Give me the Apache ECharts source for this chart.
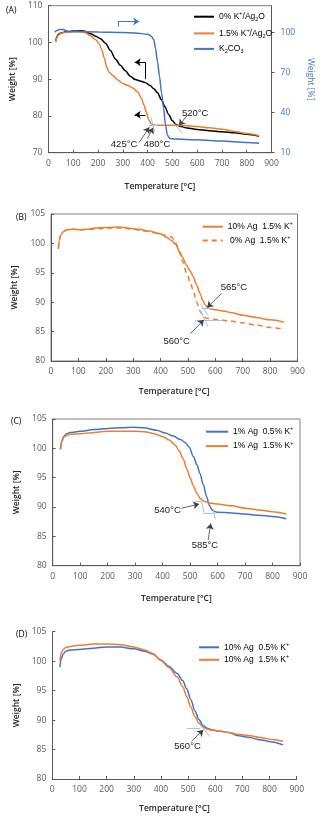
<!DOCTYPE html>
<html><head><meta charset="utf-8">
<script src="https://cdn.jsdelivr.net/npm/echarts@6/dist/echarts.min.js"></script>
<style>html,body{margin:0;padding:0;background:#fff}#c{width:323px;height:816px}</style>
</head><body><div id="c"></div>
<script>
// ---------- data ----------
const tempTicks = [0,100,200,300,400,500,600,700,800,900];

// Panel A  (weight %, left axis; K2CO3 on right axis)
const aBlack = [[30,100.4],[33,101.4],[40,102.2],[50,102.6],[70,102.9],[100,103.1],[130,103.2],[150,103.0],[170,102.4],[190,101.7],[210,101.0],[230,99.8],[250,97.8],[270,95.5],[290,93.8],[310,92.3],[330,90.8],[350,89.9],[370,89.5],[390,89.1],[410,88.3],[425,87.4],[440,86.3],[455,84.5],[470,82.5],[485,80.4],[500,78.7],[515,77.7],[530,77.2],[560,76.7],[600,76.3],[650,76.0],[700,75.7],[750,75.4],[800,75.0],[850,74.5]];
const aOrange = [[30,100.0],[33,101.2],[40,102.0],[50,102.5],[70,102.8],[100,103.0],[130,103.0],[150,102.6],[170,101.8],[190,100.8],[205,99.6],[215,98.0],[225,95.8],[235,93.3],[245,91.8],[260,91.0],[280,89.8],[300,88.8],[320,88.3],[340,87.6],[360,86.5],[375,84.8],[385,83.0],[395,81.0],[405,78.9],[415,77.8],[430,77.5],[460,77.5],[500,77.5],[550,77.4],[600,77.1],[650,76.8],[700,76.4],[750,75.8],[800,75.2],[850,74.6]];
const aK2CO3 = [[25,100.0],[32,101.3],[45,102.1],[60,102.2],[72,101.2],[85,100.6],[100,100.5],[200,100.4],[300,100.0],[350,99.6],[400,98.6],[415,97.2],[425,94.5],[432,88],[440,78],[448,67],[456,55],[464,44],[472,31],[480,23],[490,20.6],[510,20.2],[600,19.6],[700,18.7],[800,17.6],[850,17.0]];

// Panel B
const b10Ag = [[27,99.1],[30,100.5],[35,101.4],[45,102.0],[57,102.3],[80,102.4],[110,102.3],[130,102.4],[160,102.6],[200,102.7],[250,102.8],[280,102.6],[320,102.4],[360,102.1],[400,101.6],[420,101.1],[440,100.5],[455,99.8],[470,98.6],[480,97.6],[495,96.3],[508,95.3],[520,94.3],[532,92.9],[544,91.5],[555,90.2],[566,89.35],[580,88.9],[600,88.7],[630,88.5],[660,88.2],[700,87.8],[750,87.4],[800,87.0],[850,86.6]];
const b0Ag = [[27,99.1],[30,100.5],[35,101.4],[45,102.0],[57,102.3],[80,102.4],[110,102.3],[140,102.4],[180,102.5],[220,102.6],[260,102.6],[300,102.4],[340,102.1],[380,101.8],[420,101.4],[440,101.1],[450,100.6],[460,99.7],[470,98.3],[480,97.0],[495,95.0],[508,93.5],[520,91.8],[532,90.0],[544,88.5],[555,87.7],[566,87.3],[590,87.1],[620,87.0],[650,86.8],[700,86.5],[750,86.1],[800,85.7],[850,85.4]];

// Panel C
const c05K = [[28,99.8],[32,101.0],[40,102.0],[50,102.5],[63,102.7],[100,102.9],[150,103.2],[200,103.4],[250,103.5],[293,103.6],[330,103.5],[378,103.1],[410,102.6],[439,102.1],[465,101.5],[482,101.0],[497,100.2],[512,98.6],[525,97.2],[536,95.7],[548,93.8],[560,91.8],[570,90.3],[580,89.5],[592,89.2],[600,89.1],[650,89.0],[700,88.8],[750,88.6],[800,88.4],[850,88.0]];
const c15K = [[28,99.9],[32,101.0],[40,101.9],[50,102.2],[65,102.4],[100,102.5],[130,102.6],[170,102.8],[200,102.9],[250,102.9],[300,102.9],[340,102.8],[370,102.5],[400,102.0],[425,101.4],[445,100.6],[460,99.6],[475,98.2],[488,96.5],[500,95.0],[512,93.6],[525,92.3],[538,91.4],[550,91.0],[570,90.7],[600,90.5],[650,90.2],[700,89.8],[750,89.5],[800,89.2],[850,88.8]];

// Panel D
const d05K = [[28,99.0],[32,100.3],[40,101.2],[50,101.7],[65,101.9],[100,102.0],[150,102.2],[200,102.4],[250,102.4],[300,102.1],[340,101.7],[370,101.2],[400,100.2],[430,99.1],[460,97.9],[480,96.7],[495,95.3],[510,93.5],[525,91.6],[540,90.1],[555,89.1],[570,88.6],[590,88.3],[620,88.1],[650,87.9],[680,87.4],[720,87.1],[770,86.6],[810,86.3],[850,85.8]];
const d15K = [[28,100.0],[32,101.3],[40,102.0],[50,102.3],[65,102.5],[100,102.7],[150,102.9],[200,102.9],[250,102.8],[300,102.4],[340,101.9],[370,101.3],[400,100.1],[430,98.9],[460,97.3],[480,95.7],[495,94.0],[510,92.2],[525,90.6],[540,89.5],[555,88.8],[570,88.5],[590,88.3],[620,88.1],[650,87.9],[680,87.6],[720,87.4],[770,87.0],[810,86.7],[850,86.4]];

// annotation callouts (data space): [label, labelCoord, arrowFrom, arrowTo]
const aCallouts = [['425°C',[305,72.2],[366,72.8],[407,76.9]],['480°C',[438,72.2],[400,73.9],[422,76.8]],['520°C',[592,80.6],[561,80.3],[527,77.4]]];
const aTangents = [[[405,77.6],[440,77.6]],[[414,79.6],[428,75.6]],[[505,78.0],[540,75.3]]];
const aAxisArrows = [[[391,90],[391,94.6]],[[391,94.6],[348,94.6],1],[[391,80.3],[348,80.3],1]];
const aBlueArrow = [[[280,104.3],[280,105.7]],[[280,105.7],[366,105.7],1]];
const bCallouts = [['565°C',[668,92.6],[623,91.5],[570,89.1]],['560°C',[459,83.3],[510,84.7],[558,87.0]]];
const bTangents = [[[550,89.0],[590,89.0]],[[544,89.8],[574,87.8]],[[526,87.0],[623,87.0]],[[544,88.7],[574,85.8]]];
const cCallouts = [['540°C',[418,89.5],[469,89.8],[533,90.5]],['585°C',[554,83.5],[566,84.4],[575,87.2]]];
const cTangents = [[[518,90.9],[542,90.9]],[[542,90.9],[551,89.0]],[[551,89.0],[591,89.0]],[[585,89.6],[591,87.9]]];
const dCallouts = [['560°C',[498,85.6],[513,86.4],[556,88.3]]];
const dTangents = [[[495,88.6],[544,88.6]],[[544,89.2],[581,87.2]]];

// ---------- style ----------
const FONT = 'Open Sans';
const NFONT = 'Liberation Sans';
const GRAY = '#595959';
const ORANGE = '#ED7D31', BLUE = '#4472C4', BLACK = '#000000', TAN = '#9DC3E6';

const grids = [
  {left:42.7, top:5.7, width:243.3, height:147, show:true, borderColor:'#808080', borderWidth:1},
  {left:51, top:214, width:246.5, height:147, show:true, borderColor:'#808080', borderWidth:1},
  {left:52.7, top:419, width:247.3, height:146.7, show:true, borderColor:'#808080', borderWidth:1},
  {left:52.3, top:631.7, width:244.4, height:147.3, show:false}
];
const xGaps = [29, 26, 28, 25];
const yGaps = [23, 27.5, 28, 27.5];

function xAx(i){
  return {type:'value', gridIndex:i, min:tempTicks[0], max:tempTicks[tempTicks.length-1], interval:100,
    name:'Temperature [°C]', nameLocation:'middle', nameGap:xGaps[i],
    nameTextStyle:{fontFamily:FONT, fontSize:8.5, fontWeight:600, color:'#262626'},
    axisLine:{show:true, onZero:false, lineStyle:{color:GRAY, width:1}},
    axisTick:{show:true, inside:true, length:3, lineStyle:{color:GRAY}},
    axisLabel:{fontFamily:FONT, fontSize:8.5, color:GRAY, margin:6},
    splitLine:{show:false}};
}
function yAx(i, min, max, interval){
  return {type:'value', gridIndex:i, min:min, max:max, interval:interval,
    name:'Weight [%]', nameLocation:'middle', nameGap:yGaps[i],
    nameTextStyle:{fontFamily:FONT, fontSize:8.5, fontWeight:600, color:'#262626'},
    axisLine:{show:true, onZero:false, lineStyle:{color:GRAY, width:1}},
    axisTick:{show:true, inside:true, length:3, lineStyle:{color:GRAY}},
    axisLabel:{fontFamily:FONT, fontSize:8.5, color:GRAY, margin:6},
    splitLine:{show:false}};
}
const rightAxis = {type:'value', gridIndex:0, position:'right', min:10, max:120, interval:30,
  name:'Weight [%]', nameLocation:'middle', nameGap:24, nameRotate:-90,
  nameTextStyle:{fontFamily:FONT, fontSize:8.5, color:BLUE},
  axisLine:{show:true, onZero:false, lineStyle:{color:GRAY, width:1}},
  axisTick:{show:true, inside:false, length:3, lineStyle:{color:GRAY}},
  axisLabel:{fontFamily:FONT, fontSize:8.5, color:BLUE, margin:9, showMaxLabel:false},
  splitLine:{show:false}};

function seg(p, q, color, width, arrow){
  return [{coord:p, symbol:'none', lineStyle:{color:color, width:width, type:'solid'}},
          {coord:q, symbol: arrow ? 'arrow' : 'none', symbolSize:6, lineStyle:{color:color, width:width, type:'solid'}}];
}
function annotations(callouts, tangents, extra){
  const lines = [];
  tangents.forEach(t => lines.push(seg(t[0], t[1], TAN, 1, false)));
  callouts.forEach(c => lines.push(seg(c[2], c[3], '#404040', 0.8, true)));
  (extra || []).forEach(e => e.list.forEach(s => lines.push(seg(s[0], s[1], e.color, 1, !!s[2]))));
  return {
    markLine:{silent:true, animation:false, label:{show:false}, symbol:['none','none'], data:lines},
    markPoint:{silent:true, animation:false, symbol:'rect', symbolSize:1, itemStyle:{color:'rgba(0,0,0,0)'},
      label:{show:true, formatter:'{b}', position:'inside', fontFamily:NFONT, fontSize:9.5, color:'#1a1a1a'},
      data:callouts.map(c => ({name:c[0], coord:c[1]}))}
  };
}
function line(name, data, xi, yi, color, extra){
  const s = {name:name, type:'line', xAxisIndex:xi, yAxisIndex:yi, data:data, showSymbol:false, symbol:'none',
    smooth:0.3, smoothMonotone:'x', lineStyle:{color:color, width:1.5}, itemStyle:{color:color}, z:3};
  return Object.assign(s, extra || {});
}

const labels = {
  A1:'{n|0% K}{sup|+}{n|/Ag}{sub|2}{n|O}',
  A2:'{n|1.5% K}{sup|+}{n|/Ag}{sub|2}{n|O}',
  A3:'{n|K}{sub|2}{n|CO}{sub|3}',
  B1:'{n|10% Ag  1.5% K}{sup|+}',
  B2:'{n| 0% Ag  1.5% K}{sup|+}',
  C1:'{n|1% Ag  0.5% K}{sup|+}',
  C2:'{n|1% Ag  1.5% K}{sup|+}',
  D1:'{n|10% Ag  0.5% K}{sup|+}',
  D2:'{n|10% Ag  1.5% K}{sup|+}'
};
const rich = {
  n:{fontFamily:NFONT, fontSize:8.5, color:'#000', lineHeight:12},
  sup:{fontFamily:NFONT, fontSize:5.5, color:'#000', verticalAlign:'top', lineHeight:12},
  sub:{fontFamily:NFONT, fontSize:5.5, color:'#000', verticalAlign:'bottom', lineHeight:12}
};
function legend(names, left, top, gap, w){
  return {data:names, orient:'vertical', left:left, top:top, itemWidth:w, itemHeight:12, itemGap:gap,
    selectedMode:false, padding:0, itemStyle:{opacity:0}, lineStyle:{inherit:true},
    formatter:n => labels[n], textStyle:{rich:rich, fontFamily:NFONT, fontSize:8.5}};
}

const option = {
  animation:false,
  backgroundColor:'#fff',
  title:[
    {text:'(A)', left:1, top:1, textStyle:{fontFamily:FONT, fontSize:8.5, fontWeight:'normal', color:'#000'}},
    {text:'(B)', left:11, top:208, textStyle:{fontFamily:FONT, fontSize:8.5, fontWeight:'normal', color:'#000'}},
    {text:'(C)', left:6, top:412, textStyle:{fontFamily:FONT, fontSize:8.5, fontWeight:'normal', color:'#000'}},
    {text:'(D)', left:11, top:625, textStyle:{fontFamily:FONT, fontSize:8.5, fontWeight:'normal', color:'#000'}}
  ],
  grid:grids,
  xAxis:[xAx(0), xAx(1), xAx(2), xAx(3)],
  yAxis:[yAx(0,70,110,10), rightAxis, yAx(1,80,105,5), yAx(2,80,105,5), yAx(3,80,105,5)],
  legend:[
    legend(['A1','A2','A3'], 193, 10.7, 4.7, 20),
    legend(['B1','B2'], 201.7, 220.7, 3, 20),
    legend(['C1','C2'], 205, 425.7, 3.6, 22),
    legend(['D1','D2'], 198, 641.3, 1.7, 20)
  ],
  series:[
    line('A1', aBlack, 0, 0, BLACK, annotations(aCallouts, aTangents, [{color:BLACK, list:aAxisArrows},{color:BLUE, list:aBlueArrow}])),
    line('A2', aOrange, 0, 0, ORANGE),
    line('A3', aK2CO3, 0, 1, BLUE),
    line('B1', b10Ag, 1, 2, ORANGE, annotations(bCallouts, bTangents)),
    line('B2', b0Ag, 1, 2, ORANGE, {lineStyle:{color:ORANGE, width:1.5, type:[5,4]}}),
    line('C1', c05K, 2, 3, BLUE, annotations(cCallouts, cTangents)),
    line('C2', c15K, 2, 3, ORANGE),
    line('D1', d05K, 3, 4, BLUE, annotations(dCallouts, dTangents)),
    line('D2', d15K, 3, 4, ORANGE)
  ]
};
const chart = echarts.init(document.getElementById('c'), null, {renderer:'canvas'});
chart.setOption(option);
</script></body></html>
